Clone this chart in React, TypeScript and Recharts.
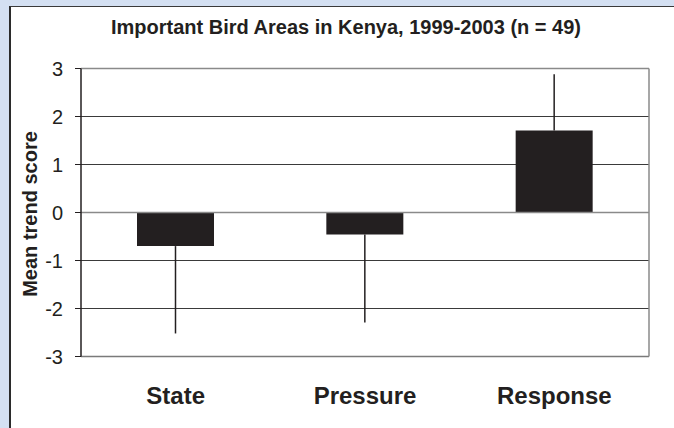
import { BarChart, Bar, XAxis, YAxis, CartesianGrid, ErrorBar, ReferenceLine, Cell } from "recharts";

// values
const CATEGORIES = ["State", "Pressure", "Response"];
const MEANS = [-0.7, -0.46, 1.71];
const ERR_DOWN = [1.82, 1.83, 0];
const ERR_UP = [0, 0, 1.17];
const Y_TICKS = [-3, -2, -1, 0, 1, 2, 3];

const TITLE = "Important Bird Areas in Kenya, 1999-2003 (n = 49)";
const Y_LABEL = "Mean trend score";

const FONT = '"Liberation Sans", Arial, sans-serif';

const data = CATEGORIES.map((name, i) => ({
    name,
    value: MEANS[i],
    err: [ERR_DOWN[i], ERR_UP[i]],
}));

export default function App() {
    return (
        <div
            style={{
                position: "absolute",
                left: 0,
                top: 0,
                width: 674,
                height: 428,
                background: "#d4e0f2",
                overflow: "hidden",
                fontFamily: FONT,
            }}
        >
            {/* white panel */}
            <div
                style={{
                    position: "absolute",
                    left: 9,
                    top: 6,
                    width: 700,
                    height: 460,
                    background: "#ffffff",
                    borderLeft: "2px solid #2b2b2b",
                    borderTop: "1px solid #3a3a3a",
                }}
            />
            <div
                style={{
                    position: "absolute",
                    left: 0,
                    top: 17,
                    width: 692,
                    textAlign: "center",
                    fontSize: 20,
                    lineHeight: "20px",
                    fontWeight: "bold",
                    color: "#231f20",
                }}
            >
                {TITLE}
            </div>
            <div style={{ position: "absolute", left: 0, top: 0 }}>
                <BarChart
                    width={674}
                    height={428}
                    data={data}
                    margin={{ top: 68.5, right: 24, bottom: 0, left: 0 }}
                >
                    <CartesianGrid horizontal vertical={false} stroke="#3a3a3a" strokeWidth={1} />
                    <XAxis
                        dataKey="name"
                        height={71.5}
                        tickLine={false}
                        tickSize={0}
                        tickMargin={30}
                        axisLine={{ stroke: "#7a7a7a", strokeWidth: 1.5 }}
                        tick={{ fontSize: 24, fontWeight: "bold", fill: "#231f20", fontFamily: FONT }}
                    />
                    <YAxis
                        width={81}
                        domain={[-3, 3]}
                        ticks={Y_TICKS}
                        interval={0}
                        tickSize={6}
                        tickMargin={12}
                        axisLine={{ stroke: "#231f20", strokeWidth: 1.5 }}
                        tickLine={{ stroke: "#231f20" }}
                        tick={{ fontSize: 20, fill: "#231f20", fontFamily: FONT }}
                        label={{
                            value: Y_LABEL,
                            content: () => (
                                <text
                                    x={37}
                                    y={214}
                                    transform="rotate(-90 37 214)"
                                    textAnchor="middle"
                                    fontSize={20}
                                    fontWeight="bold"
                                    fill="#231f20"
                                    fontFamily={FONT}
                                >
                                    {Y_LABEL}
                                </text>
                            ),
                        }}
                    />
                    <YAxis
                        yAxisId="frame"
                        orientation="right"
                        width={1}
                        domain={[-3, 3]}
                        ticks={Y_TICKS}
                        tick={false}
                        tickLine={false}
                        axisLine={{ stroke: "#8a8a8a", strokeWidth: 1.5 }}
                    />
                    <ReferenceLine y={3} stroke="#8a8a8a" strokeWidth={1.5} />
                    <ReferenceLine y={0} stroke="#8a8a8a" strokeWidth={1.5} />
                    <Bar dataKey="value" barSize={77} isAnimationActive={false}>
                        {data.map((_, i) => (
                            <Cell key={i} fill="#231f20" />
                        ))}
                        <ErrorBar
                            dataKey="err"
                            width={0}
                            stroke="#231f20"
                            strokeWidth={1.5}
                            isAnimationActive={false}
                        />
                    </Bar>
                </BarChart>
            </div>
        </div>
    );
}
